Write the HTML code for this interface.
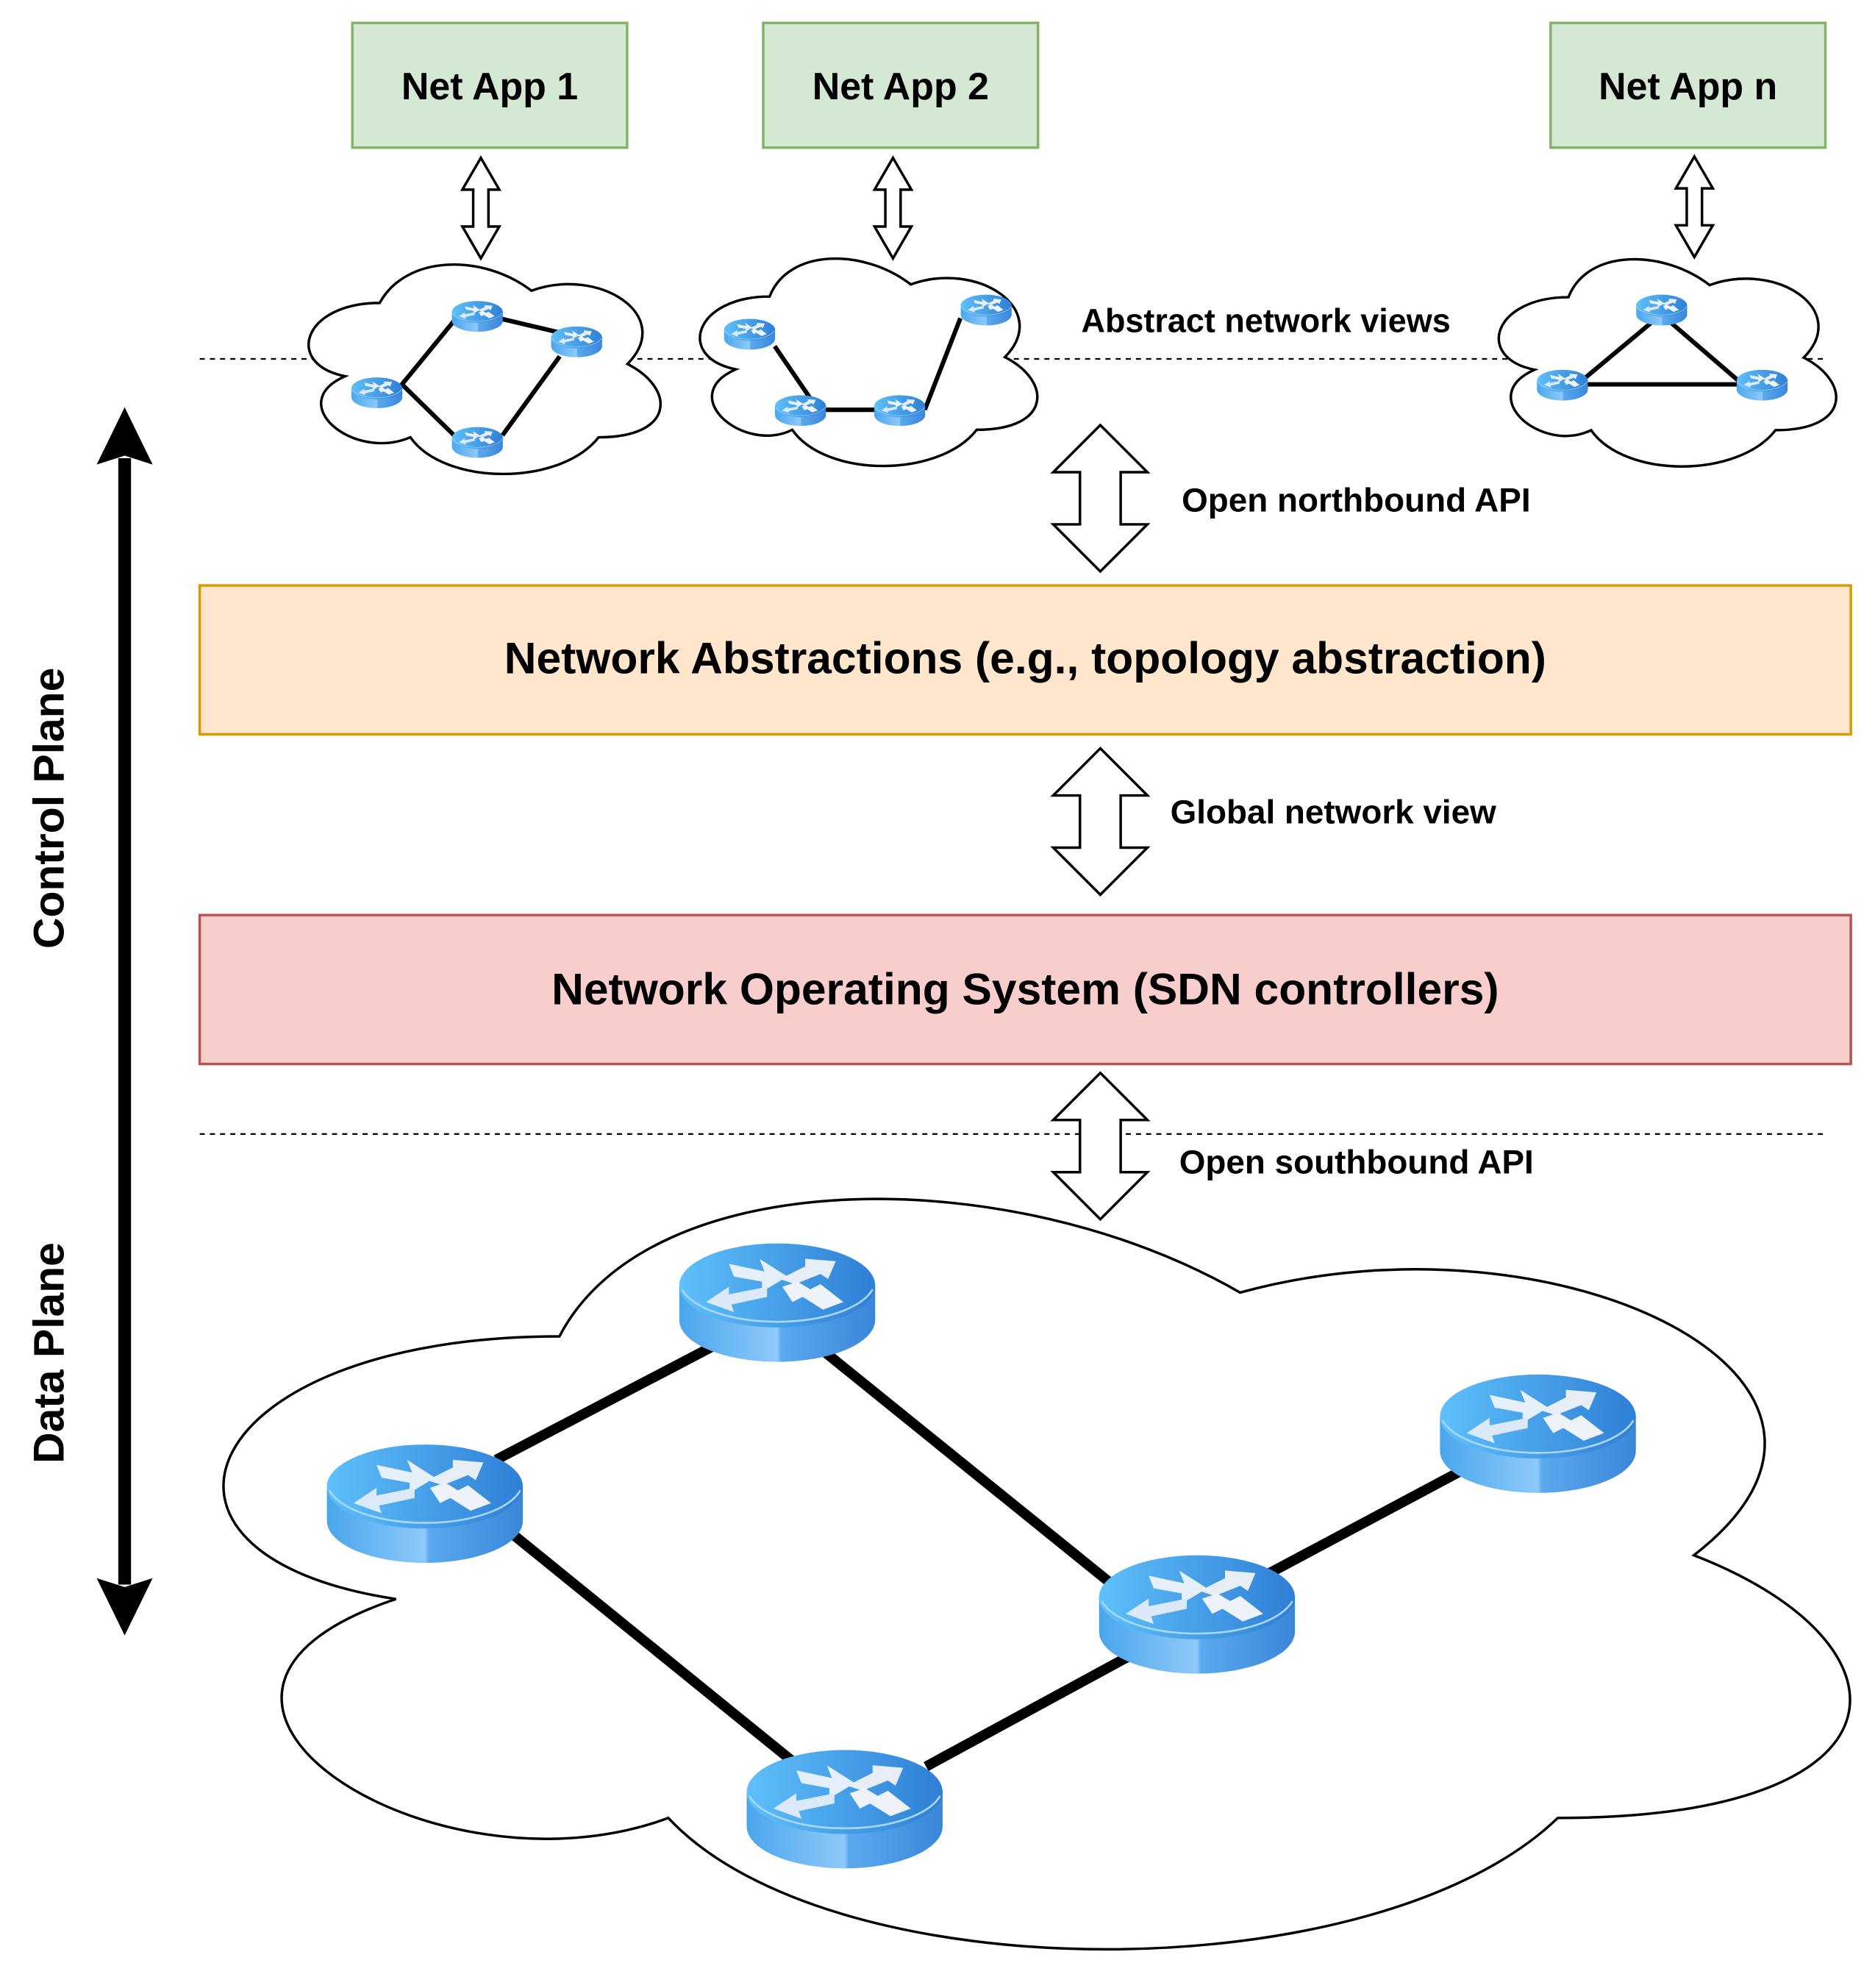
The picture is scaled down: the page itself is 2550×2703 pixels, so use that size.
<!DOCTYPE html>
<html><head><meta charset="utf-8"><style>
html,body{margin:0;padding:0;background:#fff;}
svg{display:block;}
text{font-family:"Liberation Sans",Arial,sans-serif;font-weight:bold;fill:#000;}
</style></head><body>
<svg width="2550" height="2703" viewBox="0 0 1474 1562" preserveAspectRatio="none" xmlns="http://www.w3.org/2000/svg">
<defs>
<linearGradient id="side" x1="0" x2="1" y1="0" y2="0">
<stop offset="0" stop-color="#4aa6ec"/><stop offset="0.5" stop-color="#8ec9fa"/><stop offset="0.52" stop-color="#5aa9ee"/><stop offset="1" stop-color="#3a86da"/></linearGradient>
<linearGradient id="top" x1="0" x2="1" y1="0" y2="0">
<stop offset="0" stop-color="#5ec0fa"/><stop offset="1" stop-color="#2f7fd6"/></linearGradient>
<g id="router">
<path d="M1 35 L1 62 A77 33 0 0 0 155 62 L155 35 Z" fill="url(#side)"/>
<ellipse cx="78" cy="35" rx="77" ry="33" fill="url(#top)"/>
<path d="M3 38 A77 33 0 0 0 153 38" fill="none" stroke="#a9d8fb" stroke-width="1.5"/>
<polygon points="40,18 68,24 64,14 86,28 66,40 66,32 44,28" fill="#e6f0fb"/>
<polygon points="22,48 40,36 40,42 70,36 70,44 42,50 44,56" fill="#dce9f8"/>
<polygon points="80,30 100,20 100,14 124,16 118,30 112,26 92,34" fill="#e8eef6"/>
<polygon points="82,36 94,32 104,38 112,34 130,48 114,54 98,44 90,48" fill="#eef3f9"/>
</g>
</defs>

<!-- dashed lines -->
<line x1="157" y1="282" x2="1437" y2="282" stroke="#000" stroke-width="1.3" stroke-dasharray="4,4"/>
<line x1="157" y1="891" x2="1437" y2="891" stroke="#000" stroke-width="1.3" stroke-dasharray="4,4"/>

<!-- Net apps -->
<rect x="277" y="18" width="216" height="98" fill="#d5e8d4" stroke="#82b366" stroke-width="2"/>
<text x="385" y="78" font-size="30" text-anchor="middle">Net App 1</text>
<rect x="600" y="18" width="216" height="98" fill="#d5e8d4" stroke="#82b366" stroke-width="2"/>
<text x="708" y="78" font-size="30" text-anchor="middle">Net App 2</text>
<rect x="1219" y="18" width="216" height="98" fill="#d5e8d4" stroke="#82b366" stroke-width="2"/>
<text x="1327" y="78" font-size="30" text-anchor="middle">Net App n</text>

<!-- small double arrows -->
<g fill="#fff" stroke="#000" stroke-width="2">
<path d="M378 124 L392.5 149 L384 149 L384 178 L392.5 178 L378 203 L363.5 178 L372 178 L372 149 L363.5 149 Z"/>
<path d="M702 124 L716.5 149 L708 149 L708 178 L716.5 178 L702 203 L687.5 178 L696 178 L696 149 L687.5 149 Z"/>
<path d="M1332 123 L1346.5 148 L1338 148 L1338 177 L1346.5 177 L1332 202 L1317.5 177 L1326 177 L1326 148 L1317.5 148 Z"/>
</g>

<!-- small clouds -->
<path d="M298.5 238 C238.1 238 223 286 271.3 295.6 C223 316.7 277.4 362.8 322.6 343.6 C349.8 382 440.4 382 470.6 343.6 C531 343.6 531 305.2 493.3 286 C531 247.6 470.6 209.2 417.8 228.4 C380 199.6 319.6 199.6 298.5 238 Z" fill="#fff" stroke="#000" stroke-width="2"/>
<path d="M605 233 C545.8 233 531 280.6 578.4 290.2 C531 311.1 584.3 356.7 622.8 337.7 C649.4 375.6 738.2 375.6 767.8 337.7 C827 337.7 827 299.6 790 280.6 C827 242.6 767.8 204.6 716 223.5 C679 195 619.8 195 605 233 Z" fill="#fff" stroke="#000" stroke-width="2"/>
<path d="M1233 233.5 C1173.8 233.5 1159 281 1206.4 290.5 C1159 311.4 1212.3 357 1250.8 338 C1277.4 376 1366.2 376 1395.8 338 C1455 338 1455 300 1418 281 C1455 243 1395.8 205 1344 224 C1307 195.5 1247.8 195.5 1233 233.5 Z" fill="#fff" stroke="#000" stroke-width="2"/>

<!-- small cloud links -->
<g stroke="#000" stroke-width="3.5" fill="none">
<polyline points="357,252 316,302 360,345"/>
<polyline points="392,250 443,262"/>
<polyline points="440,280 395,342"/>
<polyline points="609,272 637,313"/>
<polyline points="646,322 690,322"/>
<polyline points="727,322 755,250"/>
<polygon points="1306,247 1240,302 1370,302"/>
</g>
<g>
<use href="#router" transform="translate(355,236) scale(0.26)"/>
<use href="#router" transform="translate(433,256) scale(0.26)"/>
<use href="#router" transform="translate(276,296) scale(0.26)"/>
<use href="#router" transform="translate(355,335) scale(0.26)"/>
<use href="#router" transform="translate(569,250) scale(0.26)"/>
<use href="#router" transform="translate(609,310) scale(0.26)"/>
<use href="#router" transform="translate(687,310) scale(0.26)"/>
<use href="#router" transform="translate(755,231) scale(0.26)"/>
<use href="#router" transform="translate(1286,231) scale(0.26)"/>
<use href="#router" transform="translate(1208,290) scale(0.26)"/>
<use href="#router" transform="translate(1365,290) scale(0.26)"/>
</g>
<text x="850" y="261" font-size="26">Abstract network views</text>

<!-- big double arrows -->
<g fill="#fff" stroke="#000" stroke-width="2">
<path d="M865 334 L902 371 L881 371 L881 412 L902 412 L865 449 L828 412 L849 412 L849 371 L828 371 Z"/>
<path d="M865 588 L902 625 L881 625 L881 666 L902 666 L865 703 L828 666 L849 666 L849 625 L828 625 Z"/>
<path d="M865 843 L902 880 L881 880 L881 921 L902 921 L865 958 L828 921 L849 921 L849 880 L828 880 Z"/>
</g>
<text x="929" y="402" font-size="26.5">Open northbound API</text>
<text x="920" y="647" font-size="26.5">Global network view</text>
<text x="927" y="922" font-size="26.5">Open southbound API</text>

<!-- layer boxes -->
<rect x="157" y="460" width="1298" height="117" fill="#ffe6cc" stroke="#d79b00" stroke-width="2"/>
<text x="806" y="529" font-size="35" text-anchor="middle">Network Abstractions (e.g., topology abstraction)</text>
<rect x="157" y="719" width="1298" height="117" fill="#f8cecc" stroke="#b85450" stroke-width="2"/>
<text x="806" y="789" font-size="35" text-anchor="middle">Network Operating System (SDN controllers)</text>

<!-- vertical arrow -->
<line x1="98" y1="360" x2="98" y2="1245" stroke="#000" stroke-width="10"/>
<path d="M98 320 L120 365 L98 358 L76 365 Z" fill="#000"/>
<path d="M98 1285 L120 1240 L98 1247 L76 1240 Z" fill="#000"/>
<text transform="translate(50,635) rotate(-90)" font-size="34" text-anchor="middle">Control Plane</text>
<text transform="translate(50,1063) rotate(-90)" font-size="34" text-anchor="middle">Data Plane</text>

<!-- big cloud -->
<path d="M439.8 1050 C154.4 1050 83 1222 311.3 1256.4 C83 1332.1 339.9 1497.2 525.4 1428.4 C653.8 1566 1081.9 1566 1224.6 1428.4 C1510 1428.4 1510 1290.8 1331.6 1222 C1510 1084.4 1224.6 946.8 974.9 1015.6 C796.5 912.4 511.1 912.4 439.8 1050 Z" fill="#fff" stroke="#000" stroke-width="2"/>

<g stroke="#000" stroke-width="8" fill="none">
<line x1="560" y1="1058" x2="390" y2="1147"/>
<line x1="648" y1="1062" x2="872" y2="1243"/>
<line x1="400" y1="1203" x2="622" y2="1383"/>
<line x1="728" y1="1388" x2="890" y2="1300"/>
<line x1="998" y1="1236" x2="1150" y2="1155"/>
</g>
<use href="#router" transform="translate(533,975)"/>
<use href="#router" transform="translate(256,1133)"/>
<use href="#router" transform="translate(1131,1078)"/>
<use href="#router" transform="translate(863,1220)"/>
<use href="#router" transform="translate(586,1373)"/>
</svg>
</body></html>
